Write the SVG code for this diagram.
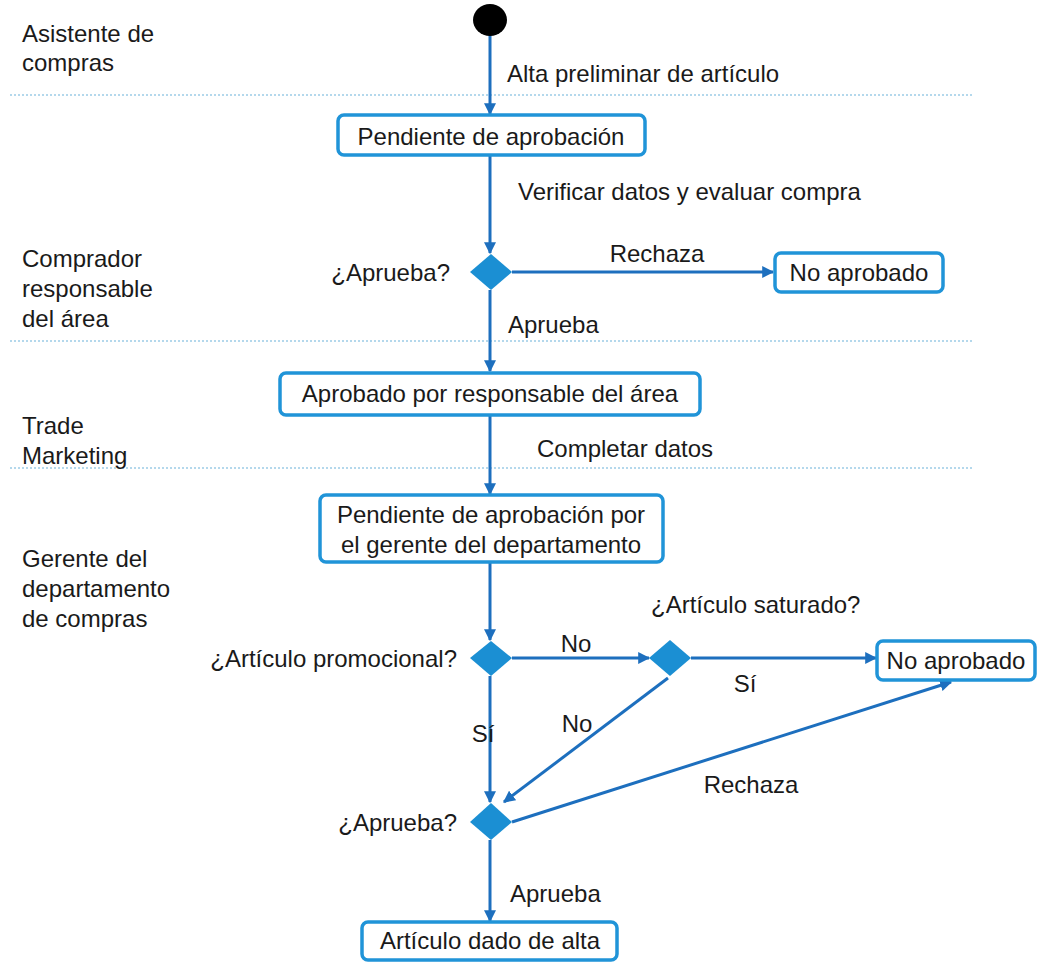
<svg xmlns="http://www.w3.org/2000/svg" width="1039" height="963" viewBox="0 0 1039 963">
<style>
text{font-family:"Liberation Sans",Arial,sans-serif;font-size:24px;fill:#1a1a1a}
.box{fill:#fff;stroke:#2094d8;stroke-width:3.5}
.dia{fill:#1b8fd3}
.ln{stroke:#1d6fbe;stroke-width:3;fill:none}
.lane{stroke:#9ccbe6;stroke-width:1.5;stroke-dasharray:2 2}
.r{text-anchor:end}
.m{text-anchor:middle}
</style>
<defs>
<marker id="ah" viewBox="0 0 10 10" refX="9" refY="5" markerWidth="4" markerHeight="4" orient="auto" markerUnits="strokeWidth">
<path d="M0,0 L10,5 L0,10 z" fill="#1d6fbe"/>
</marker>
</defs>
<g id="lanes">
<line class="lane" x1="10" y1="95" x2="972" y2="95"/>
<line class="lane" x1="10" y1="341" x2="972" y2="341"/>
<line class="lane" x1="10" y1="468" x2="972" y2="468"/>
<text x="22" y="42">Asistente de</text>
<text x="22" y="71">compras</text>
<text x="22" y="267">Comprador</text>
<text x="22" y="297">responsable</text>
<text x="22" y="327">del área</text>
<text x="22" y="434">Trade</text>
<text x="22" y="464">Marketing</text>
<text x="22" y="567">Gerente del</text>
<text x="22" y="597">departamento</text>
<text x="22" y="627">de compras</text>
</g>
<g id="connectors">
<line class="ln" x1="490" y1="34" x2="490" y2="114" marker-end="url(#ah)"/>
<line class="ln" x1="490" y1="156" x2="490" y2="253" marker-end="url(#ah)"/>
<line class="ln" x1="512" y1="272" x2="773" y2="272" marker-end="url(#ah)"/>
<line class="ln" x1="490" y1="290" x2="490" y2="371" marker-end="url(#ah)"/>
<line class="ln" x1="490" y1="416" x2="490" y2="494" marker-end="url(#ah)"/>
<line class="ln" x1="490" y1="563" x2="490" y2="640" marker-end="url(#ah)"/>
<line class="ln" x1="512" y1="658" x2="649" y2="658" marker-end="url(#ah)"/>
<line class="ln" x1="691" y1="658" x2="876" y2="658" marker-end="url(#ah)"/>
<line class="ln" x1="490" y1="676" x2="490" y2="802" marker-end="url(#ah)"/>
<line class="ln" x1="668" y1="678" x2="504" y2="802" marker-end="url(#ah)"/>
<line class="ln" x1="512" y1="822" x2="951" y2="682" marker-end="url(#ah)"/>
<line class="ln" x1="490" y1="840" x2="490" y2="921" marker-end="url(#ah)"/>
<text x="507" y="82">Alta preliminar de artículo</text>
<text x="518" y="200">Verificar datos y evaluar compra</text>
<text x="657" y="262" class="m">Rechaza</text>
<text x="508" y="333">Aprueba</text>
<text x="537" y="457">Completar datos</text>
<text x="576" y="652" class="m">No</text>
<text x="745" y="692" class="m">Sí</text>
<text x="483" y="742" class="m">Sí</text>
<text x="577" y="732" class="m">No</text>
<text x="751" y="793" class="m">Rechaza</text>
<text x="510" y="902">Aprueba</text>
</g>
<g id="start"><ellipse cx="490" cy="20" rx="17" ry="16" fill="#000"/></g>
<g id="n1"><rect class="box" x="338" y="115" width="307" height="40" rx="6"/><text x="491" y="145" class="m">Pendiente de aprobación</text></g>
<g id="d1"><polygon class="dia" points="491,254 512,272 491,290 470,272"/><text x="450" y="281" class="r">¿Aprueba?</text></g>
<g id="n2"><rect class="box" x="775" y="253" width="168" height="39" rx="6"/><text x="859" y="281" class="m">No aprobado</text></g>
<g id="n3"><rect class="box" x="280" y="373" width="420" height="42" rx="6"/><text x="490" y="402" class="m">Aprobado por responsable del área</text></g>
<g id="n4"><rect class="box" x="320" y="495" width="343" height="67" rx="6"/><text x="491" y="523" class="m">Pendiente de aprobación por</text><text x="491" y="553" class="m">el gerente del departamento</text></g>
<g id="d2"><polygon class="dia" points="491,641 512,658 491,676 470,658"/><text x="457" y="667" class="r">¿Artículo promocional?</text></g>
<g id="d3"><polygon class="dia" points="670,640 691,658 670,676 649,658"/><text x="651" y="613">¿Artículo saturado?</text></g>
<g id="n5"><rect class="box" x="877" y="641" width="158" height="39" rx="6"/><text x="956" y="669" class="m">No aprobado</text></g>
<g id="d4"><polygon class="dia" points="491,803 512,822 491,840 470,822"/><text x="457" y="831" class="r">¿Aprueba?</text></g>
<g id="n6"><rect class="box" x="362" y="922" width="255" height="38" rx="6"/><text x="490" y="949" class="m">Artículo dado de alta</text></g>
</svg>
